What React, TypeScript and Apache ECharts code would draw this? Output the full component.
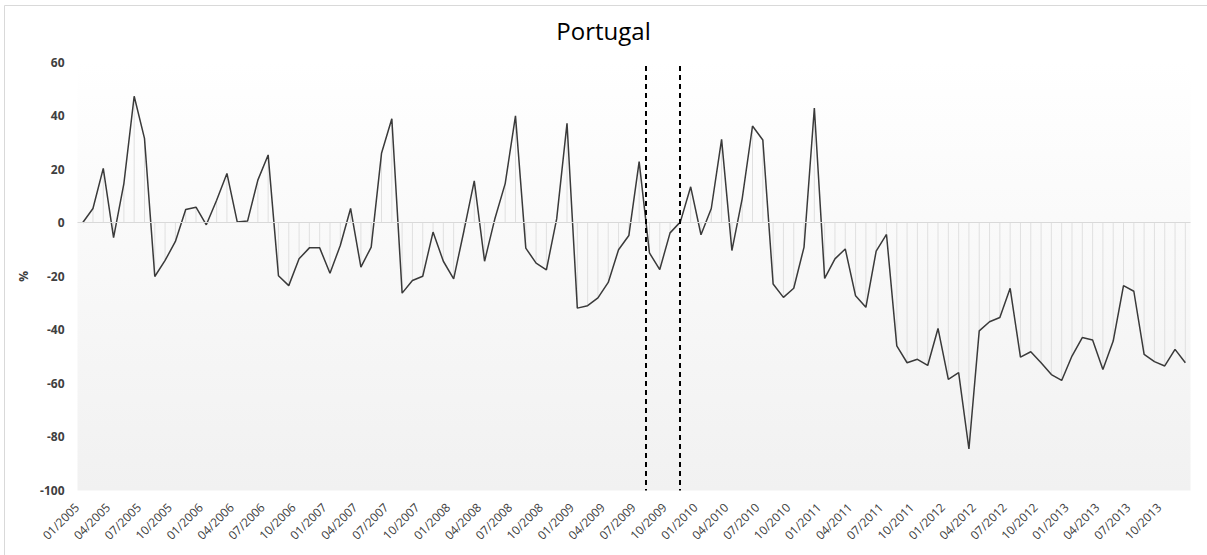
import React, { useEffect, useRef } from "react";
import * as echarts from "echarts";

const years = [2005, 2006, 2007, 2008, 2009, 2010, 2011, 2012, 2013];
const months = ["01", "02", "03", "04", "05", "06", "07", "08", "09", "10", "11", "12"];
const categories: string[] = [];
years.forEach((y) => months.forEach((m) => categories.push(`${m}/${y}`)));

const values2005 = [0, 5.3, 20.3, -5.6, 14.6, 47.2, 31.5, -20.1, -14.1, -7.0, 4.9, 5.8];
const values2006 = [-0.8, 8.4, 18.4, 0.3, 0.6, 15.9, 25.3, -19.8, -23.5, -13.5, -9.4, -9.4];
const values2007 = [-18.9, -8.5, 5.3, -16.6, -9.1, 25.9, 38.8, -26.3, -21.6, -20.0, -3.5, -14.4];
const values2008 = [-21.0, -3.0, 15.6, -14.4, 1.5, 14.6, 39.9, -9.5, -15.1, -17.6, 1.5, 37.1];
const values2009 = [-31.9, -31.0, -28.1, -22.3, -10.1, -4.8, 22.8, -11.3, -17.5, -3.8, 0.3, 13.4];
const values2010 = [-4.5, 5.3, 31.1, -10.4, 9.0, 36.1, 30.9, -22.9, -27.9, -24.5, -9.1, 42.8];
const values2011 = [-20.8, -13.5, -9.8, -27.3, -31.6, -10.6, -4.4, -46.0, -52.3, -51.0, -53.3, -39.5];
const values2012 = [-58.5, -56.0, -84.5, -40.4, -37.0, -35.4, -24.5, -50.2, -48.2, -52.3, -56.7, -58.9];
const values2013 = [-49.8, -42.9, -43.8, -54.8, -44.2, -23.5, -25.6, -49.2, -51.9, -53.5, -47.3, -52.3];

const values = [
  ...values2005, ...values2006, ...values2007, ...values2008, ...values2009,
  ...values2010, ...values2011, ...values2012, ...values2013,
];

// positions of the two dashed markers, in category-index units
const markerPositions = [54.6, 57.9];

const yTicks = { min: -100, max: 60, interval: 20 };

const FONT = "'Open Sans', 'Liberation Sans', sans-serif";

export default function App() {
  const ref = useRef<HTMLDivElement>(null);

  useEffect(() => {
    document.body.style.margin = "0";
    if (!ref.current) return;
    const chart = echarts.init(ref.current, undefined, { renderer: "svg" });
    chart.setOption({
      animation: false,
      backgroundColor: "#ffffff",
      title: {
        text: "Portugal",
        left: "center",
        top: 13,
        textStyle: { fontFamily: FONT, fontSize: 24, fontWeight: "normal", color: "#000000" },
      },
      graphic: [
        {
          type: "rect",
          shape: { x: 4.5, y: 5.5, width: 1400, height: 700 },
          style: { fill: "none", stroke: "#d9d9d9", lineWidth: 1 },
          silent: true,
          z: -1,
        },
      ],
      grid: {
        left: 77.5,
        right: 16.5,
        top: 62,
        bottom: 64.5,
        show: true,
        borderWidth: 0,
        backgroundColor: new echarts.graphic.LinearGradient(0, 0, 0, 1, [
          { offset: 0, color: "#ffffff" },
          { offset: 1, color: "#f1f1f1" },
        ]),
      },
      xAxis: [
        {
          type: "category",
          data: categories,
          boundaryGap: true,
          axisLine: { show: false },
          axisTick: { show: false },
          splitLine: { show: false },
          axisLabel: {
            interval: 2,
            rotate: 45,
            margin: 9,
            padding: [0, 8, 0, 0],
            fontFamily: FONT,
            fontSize: 12,
            color: "#404040",
          },
        },
        {
          type: "value",
          min: -0.5,
          max: 107.5,
          show: false,
          position: "bottom",
        },
      ],
      yAxis: {
        type: "value",
        min: yTicks.min,
        max: yTicks.max,
        interval: yTicks.interval,
        name: "%",
        nameLocation: "middle",
        nameGap: 48,
        nameTextStyle: { fontFamily: FONT, fontSize: 12, fontWeight: "bold", color: "#404040" },
        axisLine: { show: false },
        axisTick: { show: false },
        splitLine: { show: false },
        axisLabel: {
          margin: 13,
          fontFamily: FONT,
          fontSize: 12,
          fontWeight: "bold",
          color: "#404040",
        },
      },
      series: [
        {
          type: "bar",
          data: values,
          barWidth: 1,
          itemStyle: { color: "#e0e0e0" },
          silent: true,
          z: 1,
          markLine: {
            silent: true,
            symbol: "none",
            label: { show: false },
            lineStyle: { color: "#d9d9d9", type: "solid", width: 1 },
            data: [{ yAxis: 0 }],
          },
        },
        {
          type: "line",
          data: values,
          showSymbol: false,
          symbol: "none",
          lineStyle: { color: "#3a3a3a", width: 1.5 },
          z: 3,
        },
        {
          type: "line",
          xAxisIndex: 1,
          data: [],
          silent: true,
          z: 4,
          markLine: {
            silent: true,
            symbol: "none",
            label: { show: false },
            lineStyle: { color: "#000000", type: [5, 4], width: 2 },
            data: markerPositions.map((p) => [
              { coord: [p, 58.5] },
              { coord: [p, -100] },
            ]),
          },
        },
      ],
    });
    return () => chart.dispose();
  }, []);

  return <div ref={ref} style={{ width: 1207, height: 555 }} />;
}
